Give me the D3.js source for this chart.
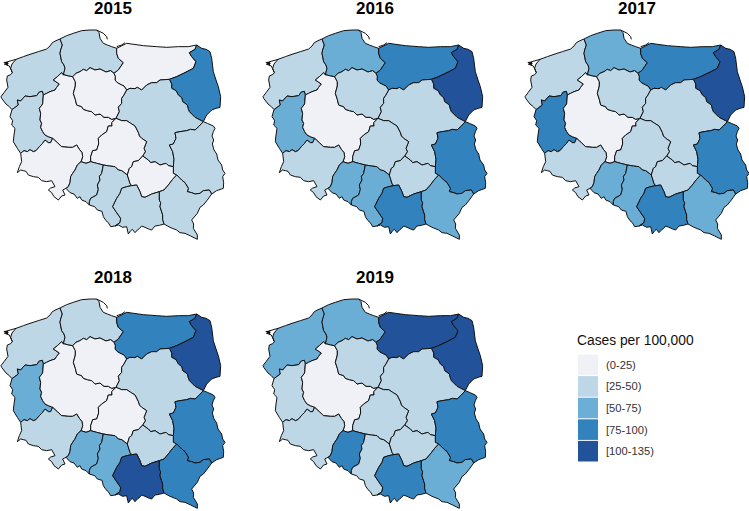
<!DOCTYPE html>
<html>
<head>
	<meta charset="utf-8">
	<title>Cases per 100,000 by voivodeship</title>
	<script src="https://d3js.org/d3.v7.min.js"></script>
	<style>
		body { margin: 0; background: white; }
		.year { font-family: "Liberation Sans", Arial, sans-serif; font-size: 17px; font-weight: bold; text-anchor: middle; }
		.legend-title { font-family: "Liberation Sans", Arial, sans-serif; font-size: 13.8px; fill: #111; }
		.legend-label { font-family: "Liberation Sans", Arial, sans-serif; font-size: 11.2px; fill: #333; }
		.region { stroke: #111; stroke-width: 1; stroke-linejoin: miter; }
		.coast { fill: none; stroke: #111; stroke-width: 1; }
	</style>
</head>
<body>
	<div id="chart"></div>
	<script>
		var years = ["2015", "2016", "2017", "2018", "2019"];
		var binLabels = ["(0-25)", "[25-50)", "[50-75)", "[75-100)", "[100-135)"];
		var binColors = ["#eff1f6", "#bdd7e7", "#6baed6", "#3182bd", "#21529a"];

		var regionNames = ["zachodniopomorskie", "pomorskie", "warminsko-mazurskie", "podlaskie", "lubuskie", "wielkopolskie", "kujawsko-pomorskie", "mazowieckie", "lodzkie", "lubelskie", "dolnoslaskie", "opolskie", "slaskie", "swietokrzyskie", "malopolskie", "podkarpackie"];

		var bins2015 = [1, 1, 0, 3, 1, 0, 0, 1, 0, 1, 0, 1, 1, 0, 1, 1];
		var bins2016 = [1, 2, 3, 4, 2, 0, 1, 1, 1, 3, 1, 2, 2, 1, 3, 2];
		var bins2017 = [1, 2, 3, 4, 3, 0, 1, 1, 1, 3, 1, 2, 2, 1, 3, 2];
		var bins2018 = [1, 1, 3, 4, 2, 0, 0, 1, 0, 3, 1, 2, 2, 1, 4, 3];
		var bins2019 = [2, 2, 4, 4, 1, 0, 1, 1, 1, 3, 1, 3, 1, 1, 3, 2];
		var binsByYear = [bins2015, bins2016, bins2017, bins2018, bins2019];

		// borders shared between regions, in map units
		var zpCoast = [[36,329],[28,320],[18,312],[5,295],[3,290],[12,278],[24,262],[20,240],[22,228],[32,224],[37,218],[32,205],[36,192],[48,178],[70,170],[90,163],[115,155],[140,147],[150,138],[157,128],[168,122],[180,117]];
		var pomCoast = [[180,117],[200,107],[220,100],[245,92],[270,90],[290,90],[297,98],[300,115],[310,130],[322,135],[335,140],[350,145]];
		var wmCoast = [[350,145],[380,130],[430,137],[470,140],[500,142],[535,140],[565,140],[590,135]];
		var podEast = [[590,135],[605,145],[618,148],[630,155],[635,175],[640,215],[648,240],[655,260],[662,290],[660,322],[648,325],[635,330],[620,345],[610,365]];
		var lubEast = [[610,365],[622,370],[640,378],[645,385],[640,395],[636,408],[641,420],[637,432],[642,450],[650,462],[654,480],[665,495],[668,510],[675,520],[668,530],[671,548],[670,565],[650,572],[635,582]];
		var podkSouth = [[635,582],[622,600],[610,615],[600,622],[592,640],[575,660],[581,672],[580,685],[592,705],[592,718],[572,708],[555,700],[540,698],[530,690],[510,682],[492,672]];
		var malSouth = [[492,672],[478,676],[465,678],[455,690],[448,688],[435,682],[425,678],[418,686],[412,690],[405,698],[397,688],[392,692],[385,702],[380,680],[368,682],[355,675],[345,678]];
		var slSouth = [[345,678],[332,680],[325,668],[318,662],[310,650],[306,634],[292,630],[284,620],[268,615]];
		var opoSouth = [[268,615],[258,605],[245,600],[240,590],[232,595],[222,582],[210,578],[198,565]];
		var dolSouth = [[198,565],[188,570],[195,585],[185,588],[175,600],[162,590],[155,578],[145,570],[152,564],[165,560],[155,542],[140,545],[125,542],[115,532],[100,530],[85,525],[78,514],[70,512],[62,510],[52,518],[58,500],[65,485],[62,460]];
		var lbsWest = [[62,460],[52,445],[40,425],[42,405],[45,385],[35,375],[38,362],[30,350],[36,329]];

		var zpPom = [[180,117],[187,135],[182,150],[180,160],[185,185],[192,195],[195,205],[190,225]];
		var zpWlkp = [[190,225],[185,218],[172,230],[160,240],[178,252],[170,262],[165,270],[150,275],[140,280],[130,285]];
		var zpLbs = [[130,285],[127,274],[118,276],[110,287],[90,290],[75,288],[62,303],[52,300],[55,315],[36,329]];
		var pomWm = [[350,145],[350,160],[355,175],[370,188],[355,210],[342,220]];
		var pomKuj = [[342,220],[332,212],[318,216],[300,207],[285,210],[270,203],[260,212],[250,208],[240,215],[228,220],[218,230]];
		var pomWlkp = [[218,230],[205,228],[195,225],[190,225]];
		var wmPod = [[590,135],[585,148],[568,158],[575,170],[588,185],[580,205],[555,218],[530,230],[508,238]];
		var wmMaz = [[508,238],[480,240],[470,248],[455,248],[440,255],[425,270],[412,262],[405,266],[390,265],[380,270]];
		var wmKuj = [[380,270],[372,258],[365,255],[352,248],[345,240],[346,230],[342,220]];
		var podMaz = [[508,238],[515,252],[515,265],[528,272],[535,285],[545,293],[548,305],[562,315],[564,325],[568,335],[585,352],[610,365]];
		var mazLub = [[610,365],[598,378],[585,390],[572,388],[560,392],[540,395],[525,398],[528,415],[520,432],[508,435],[518,455],[522,478],[520,500]];
		var mazSwk = [[520,500],[505,497],[498,490],[480,495],[465,485],[452,488],[445,480],[428,468]];
		var mazLodz = [[428,468],[436,455],[432,445],[440,425],[425,415],[418,408],[415,398],[405,378],[392,370],[380,362],[365,362],[348,355]];
		var mazKuj = [[348,355],[358,335],[355,322],[365,310],[365,295],[372,285],[380,270]];
		var kujWlkp = [[218,230],[226,245],[226,258],[220,280],[226,298],[230,315],[245,320],[250,328],[262,332],[275,335],[285,345],[300,342],[312,352],[325,352],[335,358],[348,355]];
		var wlkpLodz = [[348,355],[335,368],[336,378],[325,378],[320,395],[305,405],[295,415],[296,432],[290,450],[278,452],[272,470],[272,485]];
		var wlkpOpo = [[272,485],[258,490],[243,485]];
		var wlkpDol = [[243,485],[248,470],[246,458],[238,448],[230,435],[218,442],[205,442],[185,440],[172,428],[158,415]];
		var wlkpLbs = [[158,415],[145,410],[135,405],[128,395],[122,382],[125,370],[120,360],[122,340],[118,325],[128,312],[130,285]];
		var lbsDol = [[158,415],[152,428],[145,428],[135,420],[128,430],[118,440],[108,452],[100,455],[90,449],[82,455],[72,452],[62,460]];
		var dolOpo = [[243,485],[232,495],[225,510],[218,520],[212,530],[210,548],[205,560],[198,565]];
		var opoLodz = [[272,485],[290,490],[310,495]];
		var opoSl = [[310,495],[305,520],[298,530],[300,540],[292,555],[295,568],[290,585],[272,595],[268,605],[268,615]];
		var lodzSl = [[310,495],[328,498],[345,500],[355,510],[365,512],[382,525]];
		var lodzSwk = [[382,525],[388,505],[395,500],[400,485],[415,482],[428,468]];
		var slSwk = [[382,525],[390,550],[395,557]];
		var slMal = [[395,557],[380,560],[365,565],[360,580],[350,595],[338,620],[348,635],[355,645],[362,655],[360,668],[345,678]];
		var swkMal = [[395,557],[410,555],[420,575],[425,590],[435,592],[455,582],[478,575]];
		var swkPodk = [[478,575],[492,570],[505,555],[518,538],[530,525]];
		var swkLub = [[530,525],[520,520],[520,500]];
		var malPodk = [[478,575],[478,600],[482,608],[480,620],[488,645],[488,658],[492,672]];
		var lubPodk = [[530,525],[545,540],[555,548],[565,565],[562,575],[575,578],[585,582],[600,580],[610,572],[628,570],[635,582]];

		// the border arcs around each region, same order as regionNames
		var regionArcs = [
			[zpCoast, zpPom, zpWlkp, zpLbs],
			[pomCoast, pomWm, pomKuj, pomWlkp, zpPom],
			[wmCoast, wmPod, wmMaz, wmKuj, pomWm],
			[podEast, podMaz, wmPod],
			[lbsWest, zpLbs, wlkpLbs, lbsDol],
			[pomWlkp, zpWlkp, wlkpLbs, wlkpDol, wlkpOpo, wlkpLodz, kujWlkp],
			[pomKuj, kujWlkp, mazKuj, wmKuj],
			[wmMaz, podMaz, mazLub, mazSwk, mazLodz, mazKuj],
			[mazLodz, wlkpLodz, opoLodz, lodzSl, lodzSwk],
			[lubEast, lubPodk, swkLub, mazLub],
			[dolSouth, lbsDol, wlkpDol, dolOpo],
			[opoSouth, dolOpo, wlkpOpo, opoLodz, opoSl],
			[slSouth, opoSl, lodzSl, slSwk, slMal],
			[slSwk, swkMal, swkPodk, swkLub, mazSwk, lodzSwk],
			[malSouth, slMal, swkMal, malPodk],
			[podkSouth, malPodk, swkPodk, lubPodk]
		];

		var helLine = [[290,90],[310,100],[320,110],[322,118]];
		var spitLine = [[350,140],[365,135],[375,128]];
		var wolinLine = [[12,192],[28,198],[37,218]];
		var swinaLine = [[20,186],[48,178]];
		var lagoon = [[10,186],[22,185],[26,190],[22,197],[12,195]];

		var panelX = [0, 262, 524, 0, 262];
		var panelY = [0, 0, 0, 269, 269];

		// joins the arcs of a region into one closed ring, flipping any arc that runs the other way
		function buildRing(arcs) {
			var ring = arcs[0].slice();
			var first = arcs[0][0];
			var next = arcs[1];
			var nextEnds = [next[0], next[next.length - 1]];
			if (nextEnds.some(function(p) { return p[0] == first[0] && p[1] == first[1]; })) ring.reverse();
			for (var i = 1; i < arcs.length; i++) {
				var last = ring[ring.length - 1];
				var arc = arcs[i];
				if (arc[0][0] == last[0] && arc[0][1] == last[1]) ring = ring.concat(arc.slice(1));
				else ring = ring.concat(arc.slice().reverse().slice(1));
			}
			return ring;
		}

		var features = regionNames.map(function(name, i) {
			return { type: "Feature", properties: { name: name, index: i }, geometry: { type: "Polygon", coordinates: [buildRing(regionArcs[i])] } };
		});

		var color = d3.scaleOrdinal().domain(d3.range(binLabels.length)).range(binColors);

		var svg = d3.select("#chart").append("svg")
			.attr("width", 749)
			.attr("height", 511);

		// the source picture is a soft raster, this takes the edge off the map lines
		svg.append("defs").append("filter")
			.attr("id", "soft")
			.append("feGaussianBlur")
			.attr("stdDeviation", 0.3);

		years.forEach(function(year, y) {
			var projection = d3.geoIdentity().scale(1 / 3).translate([panelX[y], panelY[y]]);
			var path = d3.geoPath(projection);
			var g = svg.append("g").attr("filter", "url(#soft)");

			g.selectAll(".region")
				.data(features)
				.enter()
				.append("path")
				.attr("class", "region")
				.attr("d", path)
				.attr("fill", function(d) { return color(binsByYear[y][d.properties.index]); });

			g.append("path")
				.attr("class", "coast")
				.attr("d", path({ type: "MultiLineString", coordinates: [helLine, spitLine, wolinLine, swinaLine] }));
			g.append("path")
				.attr("fill", "#111")
				.attr("d", path({ type: "Polygon", coordinates: [lagoon] }));

			svg.append("text")
				.attr("class", "year")
				.attr("x", panelX[y] + 113)
				.attr("y", panelY[y] + 14)
				.text(year);
		});

		// legend
		var legendRow = d3.scaleBand().domain(binLabels).range([354, 462]);
		var legend = svg.append("g");
		legend.append("text")
			.attr("class", "legend-title")
			.attr("x", 577)
			.attr("y", 345)
			.text("Cases per 100,000");
		legend.selectAll("rect")
			.data(binLabels)
			.enter()
			.append("rect")
			.attr("x", 578)
			.attr("y", function(d) { return legendRow(d) + 0.5; })
			.attr("width", 20)
			.attr("height", legendRow.bandwidth() - 1)
			.attr("fill", function(d, i) { return binColors[i]; });
		legend.selectAll(".legend-label")
			.data(binLabels)
			.enter()
			.append("text")
			.attr("class", "legend-label")
			.attr("x", 606)
			.attr("y", function(d) { return legendRow(d) + legendRow.bandwidth() / 2 + 4; })
			.text(function(d) { return d; });
	</script>
</body>
</html>
